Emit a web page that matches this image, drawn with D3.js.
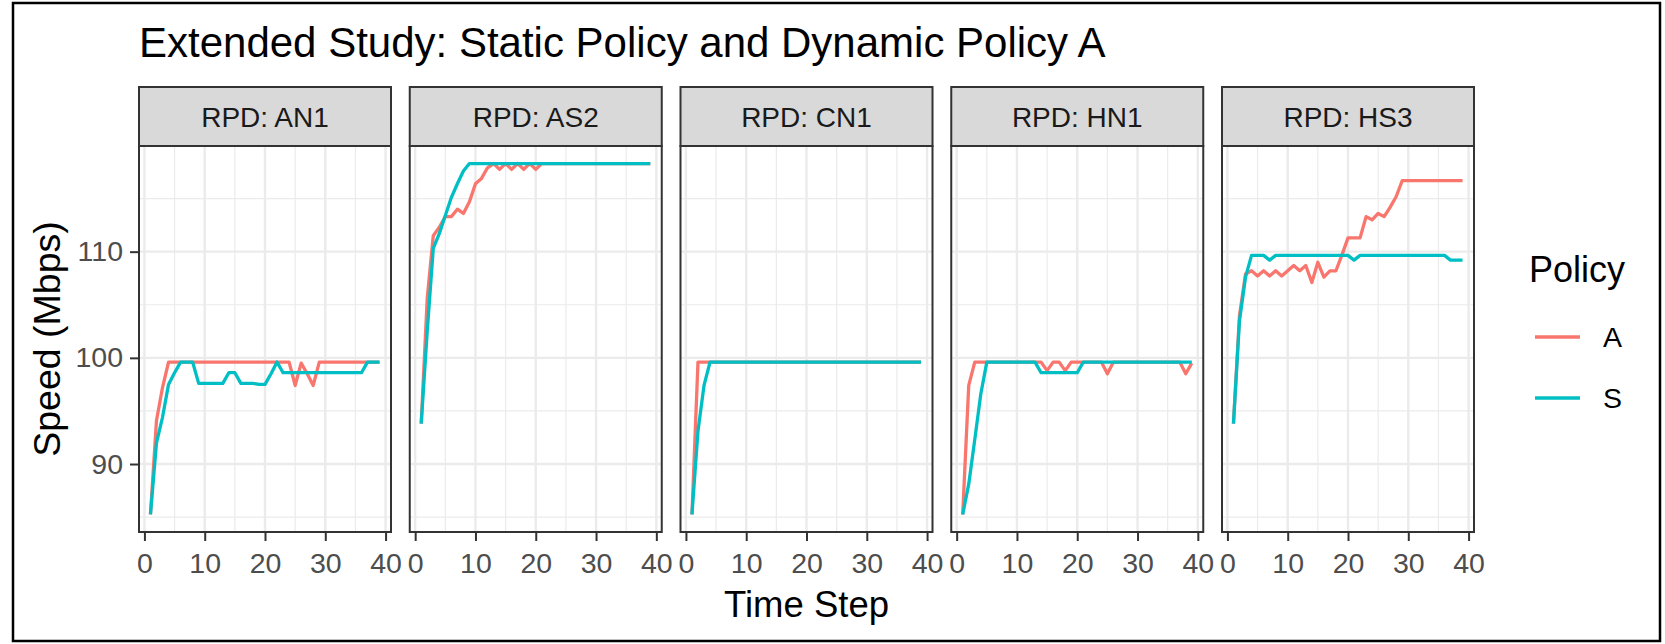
<!DOCTYPE html>
<html>
<head>
<meta charset="utf-8">
<script src="https://cdn.jsdelivr.net/npm/d3@7"></script>
<style>
  html, body { margin: 0; padding: 0; background: #fff; }
  svg { display: block; font-family: "Liberation Sans", Arial, Helvetica, sans-serif; }
</style>
</head>
<body>
<svg id="chart" width="1665" height="644"></svg>
<script>
// ---- data ---------------------------------------------------------------
const timeSteps = d3.range(1, 40);            // time steps 1..39
const rpdNames = ["AN1", "AS2", "CN1", "HN1", "HS3"];
const policies = ["A", "S"];
const policyColors = ["#F8766D", "#00BFC4"];
const xTicks = [0, 10, 20, 30, 40];
const xMinor = [5, 15, 25, 35];
const yTicks = [90, 100, 110];
const yMinor = [85, 95, 105, 115];

// speed (Mbps) per time step, one array per RPD and policy
const an1A = [85.25, 94.1, 97.2, 99.6, 99.6, 99.6, 99.6, 99.6, 99.6, 99.6,
              99.6, 99.6, 99.6, 99.6, 99.6, 99.6, 99.6, 99.6, 99.6, 99.6,
              99.6, 99.6, 99.6, 99.6, 97.4, 99.5, 98.5, 97.4, 99.6, 99.6,
              99.6, 99.6, 99.6, 99.6, 99.6, 99.6, 99.6, 99.6, 99.6];
const an1S = [85.25, 92.0, 94.4, 97.5, 98.6, 99.6, 99.6, 99.6, 97.6, 97.6,
              97.6, 97.6, 97.6, 98.6, 98.6, 97.6, 97.6, 97.6, 97.5, 97.5,
              98.5, 99.6, 98.6, 98.6, 98.6, 98.6, 98.6, 98.6, 98.6, 98.6,
              98.6, 98.6, 98.6, 98.6, 98.6, 98.6, 99.6, 99.6, 99.6];
const as2A = [93.8, 105.6, 111.5, 112.3, 113.3, 113.3, 114.0, 113.6, 114.7, 116.4,
              116.9, 117.9, 118.3, 117.75, 118.3, 117.75, 118.3, 117.75, 118.3, 117.75,
              118.3, 118.3, 118.3, 118.3, 118.3, 118.3, 118.3, 118.3, 118.3, 118.3,
              118.3, 118.3, 118.3, 118.3, 118.3, 118.3, 118.3, 118.3, 118.3];
const as2S = [93.8, 102.5, 110.3, 111.7, 113.4, 115.1, 116.4, 117.6, 118.3, 118.3,
              118.3, 118.3, 118.3, 118.3, 118.3, 118.3, 118.3, 118.3, 118.3, 118.3,
              118.3, 118.3, 118.3, 118.3, 118.3, 118.3, 118.3, 118.3, 118.3, 118.3,
              118.3, 118.3, 118.3, 118.3, 118.3, 118.3, 118.3, 118.3, 118.3];
const cn1A = [85.25, 99.6, 99.6, 99.6, 99.6, 99.6, 99.6, 99.6, 99.6, 99.6,
              99.6, 99.6, 99.6, 99.6, 99.6, 99.6, 99.6, 99.6, 99.6, 99.6,
              99.6, 99.6, 99.6, 99.6, 99.6, 99.6, 99.6, 99.6, 99.6, 99.6,
              99.6, 99.6, 99.6, 99.6, 99.6, 99.6, 99.6, 99.6, 99.6];
const cn1S = [85.25, 93.1, 97.4, 99.6, 99.6, 99.6, 99.6, 99.6, 99.6, 99.6,
              99.6, 99.6, 99.6, 99.6, 99.6, 99.6, 99.6, 99.6, 99.6, 99.6,
              99.6, 99.6, 99.6, 99.6, 99.6, 99.6, 99.6, 99.6, 99.6, 99.6,
              99.6, 99.6, 99.6, 99.6, 99.6, 99.6, 99.6, 99.6, 99.6];
const hn1A = [85.25, 97.4, 99.6, 99.6, 99.6, 99.6, 99.6, 99.6, 99.6, 99.6,
              99.6, 99.6, 99.6, 99.6, 98.8, 99.6, 99.6, 98.8, 99.6, 99.6,
              99.6, 99.6, 99.6, 99.6, 98.5, 99.6, 99.6, 99.6, 99.6, 99.6,
              99.6, 99.6, 99.6, 99.6, 99.6, 99.6, 99.6, 98.5, 99.5];
const hn1S = [85.25, 88.1, 92.3, 96.6, 99.6, 99.6, 99.6, 99.6, 99.6, 99.6,
              99.6, 99.6, 99.6, 98.6, 98.6, 98.6, 98.6, 98.6, 98.6, 98.6,
              99.6, 99.6, 99.6, 99.6, 99.6, 99.6, 99.6, 99.6, 99.6, 99.6,
              99.6, 99.6, 99.6, 99.6, 99.6, 99.6, 99.6, 99.6, 99.6];
const hs3A = [93.8, 104.0, 107.9, 108.2, 107.7, 108.2, 107.7, 108.2, 107.7, 108.2,
              108.7, 108.2, 108.7, 107.1, 109.0, 107.6, 108.2, 108.2, 109.7, 111.3,
              111.3, 111.3, 113.3, 113.0, 113.6, 113.3, 114.2, 115.2, 116.7, 116.7,
              116.7, 116.7, 116.7, 116.7, 116.7, 116.7, 116.7, 116.7, 116.7];
const hs3S = [93.8, 103.5, 107.6, 109.65, 109.65, 109.65, 109.2, 109.65, 109.65, 109.65,
              109.65, 109.65, 109.65, 109.65, 109.65, 109.65, 109.65, 109.65, 109.65, 109.65,
              109.2, 109.65, 109.65, 109.65, 109.65, 109.65, 109.65, 109.65, 109.65, 109.65,
              109.65, 109.65, 109.65, 109.65, 109.65, 109.65, 109.2, 109.2, 109.2];

const seriesByRpd = [
  [an1A, an1S], [as2A, as2S], [cn1A, cn1S], [hn1A, hn1S], [hs3A, hs3S]
];

// ---- layout -------------------------------------------------------------
const W = 1665, H = 644;
const stripTop = 87, panelTop = 146, panelBottom = 532;
const panelLeft0 = 139, panelW = 252, panelGap = 18.75;
const panelH = panelBottom - panelTop;
const lineW = 3.3;

const svg = d3.select("#chart");

// outer frame
svg.append("rect")
  .attr("x", 13).attr("y", 3).attr("width", 1647).attr("height", 638)
  .attr("fill", "#fff").attr("stroke", "#000").attr("stroke-width", 2.5);

// scales with 5% padding on each side of the data range
function padded(ext) {
  const r = ext[1] - ext[0];
  return [ext[0] - 0.05 * r, ext[1] + 0.05 * r];
}
const x = d3.scaleLinear()
  .domain(padded(d3.extent(timeSteps)))
  .range([0, panelW]);
const allValues = seriesByRpd.flat(2);
const y = d3.scaleLinear()
  .domain(padded(d3.extent(allValues)))
  .range([panelH, 0]);

const line = d3.line()
  .x((d, i) => x(timeSteps[i]))
  .y(d => y(d));

rpdNames.forEach((name, p) => {
  const left = panelLeft0 + p * (panelW + panelGap);
  const g = svg.append("g").attr("transform", `translate(${left},${panelTop})`);

  // panel background and grid
  g.append("rect").attr("width", panelW).attr("height", panelH).attr("fill", "#fff");
  g.selectAll(".gx-minor").data(xMinor).join("line")
    .attr("x1", d => x(d)).attr("x2", d => x(d)).attr("y1", 0).attr("y2", panelH)
    .attr("stroke", "#EBEBEB").attr("stroke-width", 1.2);
  g.selectAll(".gy-minor").data(yMinor).join("line")
    .attr("y1", d => y(d)).attr("y2", d => y(d)).attr("x1", 0).attr("x2", panelW)
    .attr("stroke", "#EBEBEB").attr("stroke-width", 1.2);
  g.selectAll(".gx-major").data(xTicks).join("line")
    .attr("x1", d => x(d)).attr("x2", d => x(d)).attr("y1", 0).attr("y2", panelH)
    .attr("stroke", "#EBEBEB").attr("stroke-width", 2.4);
  g.selectAll(".gy-major").data(yTicks).join("line")
    .attr("y1", d => y(d)).attr("y2", d => y(d)).attr("x1", 0).attr("x2", panelW)
    .attr("stroke", "#EBEBEB").attr("stroke-width", 2.4);

  // series lines
  seriesByRpd[p].forEach((vals, k) => {
    g.append("path")
      .datum(vals)
      .attr("d", line)
      .attr("fill", "none")
      .attr("stroke", policyColors[k])
      .attr("stroke-width", lineW)
      .attr("stroke-linejoin", "round");
  });

  // panel border
  g.append("rect").attr("width", panelW).attr("height", panelH)
    .attr("fill", "none").attr("stroke", "#333333").attr("stroke-width", 2);

  // strip
  svg.append("rect")
    .attr("x", left).attr("y", stripTop)
    .attr("width", panelW).attr("height", panelTop - stripTop)
    .attr("fill", "#D9D9D9").attr("stroke", "#333333").attr("stroke-width", 2);
  svg.append("text")
    .attr("x", left + panelW / 2).attr("y", 127)
    .attr("text-anchor", "middle")
    .attr("font-size", 28).attr("fill", "#1A1A1A")
    .text("RPD: " + name);

  // x axis
  const ax = g.append("g").attr("transform", `translate(0,${panelH})`)
    .call(d3.axisBottom(x).tickValues(xTicks).tickSize(9).tickPadding(12)
      .tickFormat(d3.format("d")));
  ax.select(".domain").remove();
  ax.selectAll(".tick line").attr("stroke", "#333333").attr("stroke-width", 2);
  ax.selectAll(".tick text").attr("font-size", 28.5).attr("fill", "#4D4D4D")
    .attr("font-family", null);

  // y axis on the first panel only
  if (p === 0) {
    const ay = g.append("g")
      .call(d3.axisLeft(y).tickValues(yTicks).tickSize(9).tickPadding(7)
        .tickFormat(d3.format("d")));
    ay.select(".domain").remove();
    ay.selectAll(".tick line").attr("stroke", "#333333").attr("stroke-width", 2);
    ay.selectAll(".tick text").attr("font-size", 28.5).attr("fill", "#4D4D4D")
      .attr("font-family", null);
  }
});

// titles
svg.append("text")
  .attr("x", 139).attr("y", 57)
  .attr("font-size", 42).attr("fill", "#000")
  .text("Extended Study: Static Policy and Dynamic Policy A");

const panelsRight = panelLeft0 + 5 * panelW + 4 * panelGap;
svg.append("text")
  .attr("x", (panelLeft0 + panelsRight) / 2).attr("y", 617)
  .attr("text-anchor", "middle")
  .attr("font-size", 36.5).attr("fill", "#000")
  .text("Time Step");

svg.append("text")
  .attr("transform", `translate(60,${(panelTop + panelBottom) / 2}) rotate(-90)`)
  .attr("text-anchor", "middle")
  .attr("font-size", 37.5).attr("fill", "#000")
  .text("Speed (Mbps)");

// legend
const legend = svg.append("g");
legend.append("text")
  .attr("x", 1529).attr("y", 282)
  .attr("font-size", 36).attr("fill", "#000")
  .text("Policy");
const keyY = [337, 398];
policies.forEach((pol, k) => {
  legend.append("line")
    .attr("x1", 1535).attr("x2", 1580)
    .attr("y1", keyY[k]).attr("y2", keyY[k])
    .attr("stroke", policyColors[k]).attr("stroke-width", lineW);
  legend.append("text")
    .attr("x", 1603).attr("y", keyY[k])
    .attr("dy", "0.36em")
    .attr("font-size", 28.5).attr("fill", "#000")
    .text(pol);
});
</script>
</body>
</html>
